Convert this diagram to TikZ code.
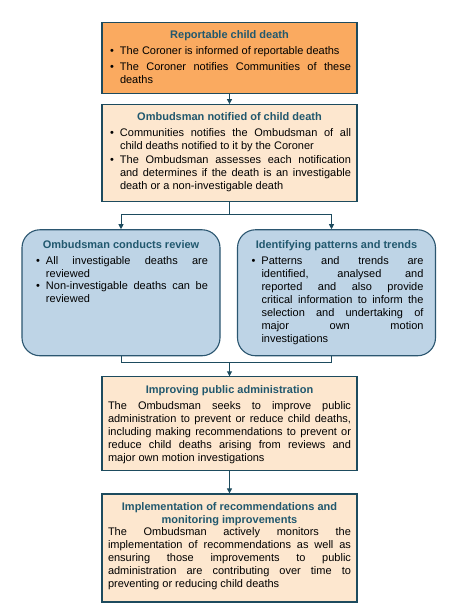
\documentclass[tikz,border=0pt]{standalone}
\usepackage{fontspec}
\setmainfont{Liberation Sans}
\usepackage{tikz}
\usetikzlibrary{arrows.meta,positioning}
\definecolor{flowline}{HTML}{1D4B5E}
\definecolor{flowtitle}{HTML}{21586E}
\definecolor{reviewedge}{HTML}{2B5670}
\definecolor{coronerorange}{HTML}{FAAA60}
\definecolor{ombpeach}{HTML}{FDE7CF}
\definecolor{reviewblue}{HTML}{BED4E6}
\newcommand{\setjust}{\spaceskip=0pt\xspaceskip=0pt\baselineskip=13pt\tolerance=9999\hyphenpenalty=10000\relax}
\newcommand{\boxtitle}[1]{\noindent\textcolor{flowtitle}{\parbox[t]{\linewidth}{\setjust\centering\bfseries #1}}\par}
\newcommand{\bitem}[1]{\par\vspace{3pt}\noindent\makebox[12pt][l]{\hspace{2pt}\textbullet}\parbox[t]{\dimexpr\linewidth-12pt\relax}{\setjust #1}\par}
\newcommand{\btext}[1]{\par\vspace{3pt}\noindent\parbox[t]{\linewidth}{\setjust #1}\par}
\tikzset{
  stagebox/.style={
    draw=flowline,
    line width=1.1pt,
    fill=ombpeach,
    inner xsep=6pt,
    inner ysep=0pt,
    text width=243pt,
    font=\fontsize{11}{13}\selectfont
  },
  reviewbox/.style={
    draw=reviewedge,
    line width=1.1pt,
    fill=reviewblue,
    rounded corners=18pt,
    inner xsep=12pt,
    inner ysep=0pt,
    text width=174pt,
    text height=19pt,
    text depth=107pt,
    font=\fontsize{11}{13}\selectfont
  },
  connector/.style={draw=flowline, line width=0.9pt},
  flowarrow/.style={-{Triangle[length=5pt,width=5pt]}, draw=flowline, line width=0.9pt}
}
\begin{document}
\begin{tikzpicture}
\fill[white] (0,0) rectangle (458pt,-614pt);
\useasboundingbox (0,0) rectangle (458pt,-614pt);

\node[stagebox, fill=coronerorange, text height=16pt, text depth=55pt, anchor=north] (report) at (229.5pt,-22pt) {\boxtitle{Reportable child death}
\bitem{The Coroner is informed of reportable deaths}
\bitem{The Coroner notifies Communities of these\linebreak deaths}};

\node[stagebox, text height=16pt, text depth=81pt, below=10pt of report] (notified) {\boxtitle{Ombudsman notified of child death}
\bitem{Communities notifies the Ombudsman of all\linebreak child deaths notified to it by the Coroner}
\bitem{The Ombudsman assesses each notification\linebreak and determines if the death is an investigable\linebreak death or a non-investigable death}};

\node[reviewbox, below=27pt of notified, xshift=-108.5pt] (review) {\boxtitle{Ombudsman conducts review}
\bitem{All investigable deaths are\linebreak reviewed}
\bitem{Non-investigable deaths can be\linebreak reviewed}};

\node[reviewbox, below=27pt of notified, xshift=107pt] (patterns) {\boxtitle{Identifying patterns and trends}
\bitem{Patterns and trends are\linebreak identified, analysed and\linebreak reported and also provide\linebreak critical information to inform the\linebreak selection and undertaking of\linebreak major own motion\linebreak investigations}};

\path (notified.south) ++(0,-12pt) coordinate (split);
\path (review.south -| report.south) ++(0,-6pt) coordinate (merge);

\node[stagebox, text height=17pt, text depth=77pt, below=14pt of merge] (improve) {\boxtitle{Improving public administration}
\btext{The Ombudsman seeks to improve public\linebreak administration to prevent or reduce child deaths,\linebreak including making recommendations to prevent or\linebreak reduce child deaths arising from reviews and\linebreak major own motion investigations}};

\node[stagebox, text height=17pt, text depth=91pt, below=22pt of improve] (implement) {\boxtitle{Implementation of recommendations and\\monitoring improvements}\vspace{-3pt}
\btext{The Ombudsman actively monitors the\linebreak implementation of recommendations as well as\linebreak ensuring those improvements to public\linebreak administration are contributing over time to\linebreak preventing or reducing child deaths}};

% connectors
\draw[flowarrow] (report) -- (notified);
\draw[connector] (notified) -- (split);
\draw[flowarrow] (split) -| (review);
\draw[flowarrow] (split) -| ([xshift=-5pt]patterns.north);
\draw[connector] (review) |- (merge) -| ([xshift=-5pt]patterns.south);
\draw[flowarrow] (merge) -- (improve);
\draw[flowarrow] (improve) -- (implement);
\end{tikzpicture}
\end{document}
